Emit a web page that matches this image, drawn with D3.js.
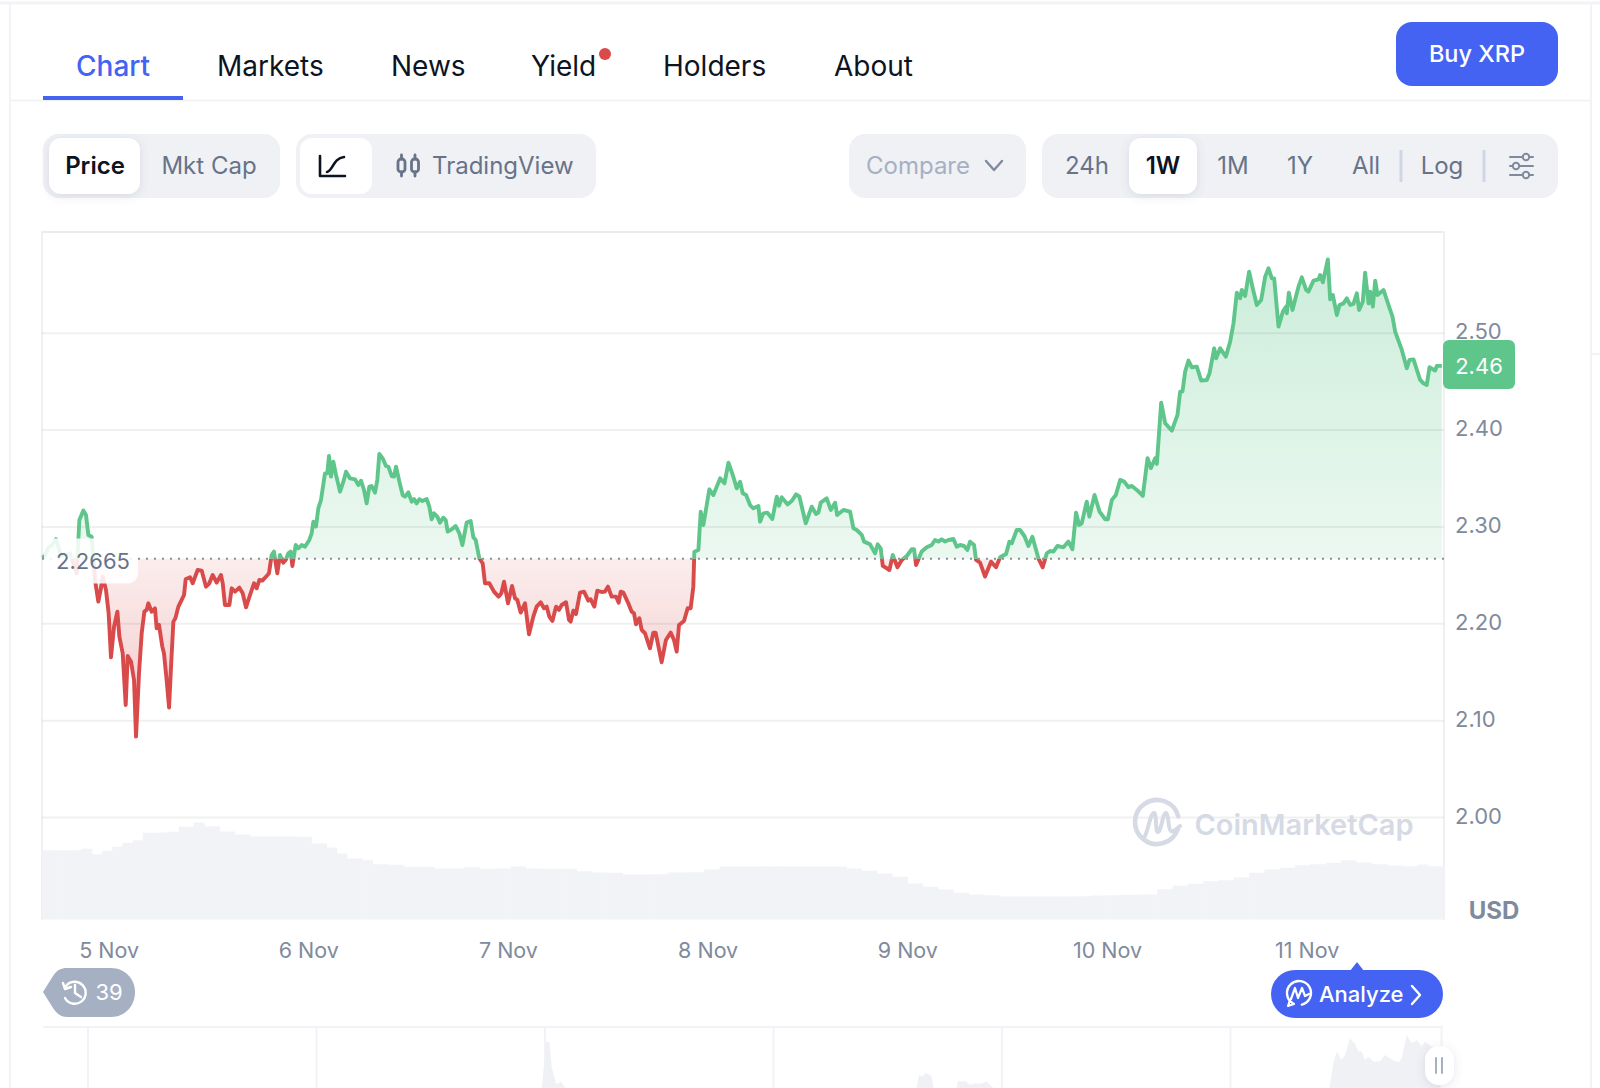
<!DOCTYPE html>
<html>
<head>
<meta charset="utf-8">
<title>XRP price chart</title>
<script src="https://d3js.org/d3.v7.min.js"></script>
<style>
  html, body { margin: 0; padding: 0; background: #fff; overflow: hidden; }
  svg { display: block; font-family: Inter, "Noto Sans", sans-serif; }
</style>
</head>
<body>
<script>
// price: hours since the left edge of the chart, USD
var hours = [0,0.32,0.56,0.76,1.16,1.68,1.97,2.25,2.77,3.37,3.97,4.17,4.49,4.97,5.29,5.57,5.97,6.17,6.37,6.77,7.05,7.29,7.69,8.01,8.29,8.66,9.06,9.30,9.70,10.06,10.30,10.70,11.06,11.30,11.66,11.98,12.30,12.58,12.78,13.18,13.58,13.78,14.06,14.46,14.66,14.98,15.27,15.55,15.79,16.03,16.39,16.79,17.07,17.27,17.79,18.11,18.71,19.19,19.71,20.11,20.51,20.99,21.51,21.72,21.99,22.52,22.80,23.20,23.72,24.12,24.52,25.00,25.48,25.80,26.12,26.48,27.00,27.28,27.60,27.88,28.28,28.60,29.00,29.29,29.61,29.89,30.09,30.49,30.81,31.21,31.61,32.13,32.41,32.61,32.93,33.21,33.53,34.01,34.29,34.49,34.73,35.01,35.34,35.82,36.22,36.54,37.02,37.62,38.02,38.34,38.70,39.02,39.34,
  39.62,40.02,40.30,40.54,40.94,41.34,41.63,42.03,42.31,42.55,42.95,43.35,43.63,44.03,44.43,44.71,45.03,45.35,45.71,46.23,46.55,46.83,47.11,47.51,47.83,48.24,48.52,48.76,49.24,49.72,50.16,50.52,51.04,51.52,51.84,52.12,52.56,52.96,53.24,53.76,54.32,54.87,55.21,55.53,56.01,56.49,56.85,57.13,57.53,58.05,58.53,59.05,59.45,59.93,60.33,60.65,60.97,61.34,61.78,62.14,62.46,62.98,63.34,63.54,63.86,64.18,64.66,65.14,65.66,65.94,66.38,66.74,67.26,67.66,68.02,68.46,68.99,69.31,69.55,69.87,70.47,70.87,71.15,71.39,71.79,72.07,72.47,73.07,73.47,73.75,74.47,74.99,75.56,75.96,76.28,76.56,77.16,77.60,77.96,78.28,78.40,78.89,
  79.17,79.49,79.89,80.21,80.69,81.50,82.02,82.50,83.02,83.50,83.90,84.22,84.62,85.10,85.50,86.10,86.30,86.70,87.18,87.78,88.31,88.59,88.91,89.59,90.11,90.63,91.03,91.79,92.51,93.03,93.31,93.59,94.31,94.80,95.32,95.56,96.32,97.12,97.52,97.92,98.52,98.80,99.52,100.12,100.44,100.80,101.05,101.53,101.85,102.25,102.81,103.33,103.93,104.53,104.81,105.05,105.73,106.33,106.93,107.33,107.73,108.13,108.54,108.94,109.54,109.94,110.34,110.82,111.22,111.54,112.02,112.26,112.74,113.34,114.06,114.66,115.15,115.87,116.27,116.55,117.15,117.55,118.07,118.55,119.03,119.75,120.27,120.76,121.15,121.56,122.04,122.76,123.36,123.84,124.28,124.64,124.96,125.56,125.88,
  126.50,127.10,127.78,128.10,128.58,129.06,129.58,130.06,130.58,130.98,131.58,132.30,132.87,133.27,133.79,133.99,134.51,134.99,135.79,136.47,136.79,137.07,137.39,137.79,138.19,138.79,139.32,140.00,140.32,140.88,141.12,141.60,142.28,142.80,143.20,143.60,144.00,144.20,144.60,145.08,145.52,146.00,146.53,147.01,147.41,147.81,148.09,148.61,149.13,149.53,149.61,149.85,150.29,151.01,151.41,151.93,152.21,152.82,153.42,153.62,153.94,154.54,154.82,155.14,155.62,155.94,156.42,156.82,157.22,157.62,158.02,158.30,158.74,159.02,159.43,159.63,159.95,160.23,160.51,161.23,161.83,162.31,162.63,163.43,164.03,164.35,164.83,165.63,166.03,166.43,166.76,167.44,167.64,168.24];

var prices = [2.268,2.2688,2.274,2.2784,2.2805,2.287,2.2791,2.2705,2.2705,2.2722,2.2568,2.2516,2.3066,2.3163,2.3118,2.2912,2.2894,2.2671,2.2447,2.2224,2.2344,2.2482,2.2344,2.2103,2.1649,2.1966,2.212,2.1862,2.169,2.1157,2.1663,2.1604,2.1415,2.083,2.1484,2.1897,2.212,2.2138,2.2206,2.212,2.2155,2.1948,2.1983,2.1759,2.169,2.1415,2.113,2.1622,2.2017,2.2052,2.2172,2.2241,2.2292,2.2454,2.2475,2.2413,2.255,2.2544,2.2378,2.2413,2.2499,2.242,2.2499,2.2413,2.2189,2.2189,2.2361,2.2327,2.2368,2.231,2.2165,2.2292,2.2413,2.2361,2.2447,2.244,2.2488,2.2516,2.2705,2.274,2.2516,2.2705,2.2626,2.2654,2.2722,2.274,2.2592,2.2808,2.2774,2.2808,2.2791,2.286,2.2929,2.3049,2.2998,2.3187,2.3273,2.3548,2.3548,2.3727,2.3514,2.3668,2.3531,2.3359,2.3462,2.3565,2.3496,2.3486,2.3428,2.3472,2.3376,2.3238,2.341,
  2.3417,2.3348,2.3479,2.3748,2.3703,2.3624,2.3617,2.352,2.3514,2.3617,2.3462,2.3324,2.3307,2.3352,2.3256,2.3283,2.3238,2.328,2.3262,2.3283,2.3204,2.3073,2.3135,2.3101,2.3039,2.309,2.3066,2.2946,2.297,2.3004,2.2929,2.2808,2.3039,2.3056,2.2888,2.286,2.2671,2.2619,2.2413,2.2413,2.2327,2.2275,2.231,2.243,2.2206,2.2385,2.2258,2.2241,2.211,2.2206,2.1886,2.2069,2.2172,2.2217,2.2155,2.2172,2.2069,2.2024,2.2172,2.2138,2.2189,2.2217,2.2034,2.2017,2.2131,2.2096,2.2316,2.2327,2.2234,2.2248,2.2172,2.2337,2.2323,2.2327,2.2378,2.2275,2.2275,2.2213,2.2327,2.2316,2.2206,2.212,2.2103,2.199,2.2052,2.1931,2.1897,2.1742,2.1904,2.1904,2.1598,2.1828,2.1904,2.1828,2.1708,2.1983,2.2024,2.2155,2.2155,2.2378,2.2739,2.2757,
  2.3152,2.3015,2.3221,2.3383,2.3324,2.3496,2.3445,2.3658,2.3531,2.3393,2.3462,2.3342,2.3324,2.3221,2.3187,2.3211,2.3049,2.3135,2.3142,2.3077,2.3307,2.3214,2.33,2.3228,2.3262,2.3331,2.3307,2.3032,2.3204,2.3128,2.3142,2.3245,2.329,2.317,2.3245,2.3118,2.317,2.3152,2.298,2.2963,2.2912,2.2843,2.2815,2.2722,2.2815,2.2774,2.2592,2.2568,2.255,2.2705,2.2578,2.2654,2.2695,2.2764,2.2764,2.2602,2.274,2.2784,2.2808,2.286,2.2843,2.2867,2.2843,2.286,2.287,2.2791,2.2808,2.2798,2.2757,2.2843,2.2808,2.2654,2.2626,2.2482,2.2636,2.2578,2.2681,2.2716,2.2843,2.2826,2.2963,2.2963,2.2901,2.2798,2.2894,2.2671,2.2578,2.2722,2.2746,2.274,2.2798,2.2784,2.2843,2.2764,2.3142,2.3015,2.3032,2.3256,2.3101,
  2.3325,2.3153,2.3074,2.3074,2.3274,2.3325,2.348,2.3463,2.3405,2.3418,2.3377,2.3315,2.3704,2.3601,2.3704,2.3645,2.4278,2.4065,2.3989,2.4151,2.4392,2.4392,2.4598,2.4712,2.4643,2.465,2.4505,2.4512,2.4581,2.4839,2.4736,2.4839,2.4753,2.4908,2.5097,2.5413,2.5355,2.5441,2.5379,2.563,2.5458,2.5286,2.5338,2.5579,2.5665,2.5561,2.5561,2.5063,2.5217,2.5269,2.52,2.5413,2.5235,2.5475,2.5572,2.5441,2.5424,2.5537,2.5551,2.5596,2.552,2.5757,2.5345,2.5389,2.5183,2.5286,2.5303,2.5355,2.5286,2.5297,2.5407,2.5235,2.5321,2.562,2.5303,2.5424,2.5269,2.5537,2.5389,2.5441,2.5286,2.5166,2.5011,2.4822,2.4633,2.4719,2.4725,2.4512,2.4478,2.4461,2.4643,2.4609,2.4657,2.4657];

var openPrice = 2.2665;
var lastPrice = 2.46;

// volume under the price, billions of USD per bar
var volumeHours = [0,1.70,3.54,4.76,5.99,7.22,8.44,9.67,10.90,12.12,13.96,15.19,16.42,18.25,19.48,21.32,23.16,25.00,26.84,28.68,30.52,32.36,34.20,35.43,36.65,38.49,39.72,41.56,43.40,45.24,47.08,48.92,50.76,52.60,54.44,56.28,58.12,59.96,62.41,64.25,66.09,67.93,69.77,71.61,73.45,75.29,77.75,79.59,81.43,83.27,85.11,86.95,88.79,91.11,92.95,94.79,96.63,98.47,100.31,102.15,103.99,105.83,107.67,109.51,111.35,113.19,115.03,116.87,118.71,120.55,122.39,124.23,126.07,127.91,129.75,132.20,134.04,135.88,137.72,139.56,141.40,143.24,145.08,146.92,148.76,150.60,152.44,154.28,156.12,157.96,159.80,161.64,163.48,165.32,166.55,168.50];
var volumes = [6.93,6.9,6.93,7.07,6.53,6.87,7.27,7.67,7.93,8.67,8.7,8.77,9.27,9.7,9.33,8.8,8.5,8.3,8.3,8.3,8.27,7.6,7.2,6.6,6.1,5.93,5.53,5.47,5.27,5.27,5.1,5.1,5.23,5.07,5.1,5.3,5.1,5.07,5.07,4.83,4.7,4.67,4.5,4.5,4.53,4.7,4.73,5.03,5.3,5.3,5.3,5.3,5.3,5.3,5.3,5.3,5.1,4.87,4.6,4.27,3.6,3.27,3,2.67,2.5,2.43,2.3,2.3,2.3,2.3,2.3,2.33,2.4,2.43,2.47,2.5,3.03,3.37,3.57,3.83,3.93,4.2,4.67,5,5.17,5.43,5.53,5.67,5.93,5.7,5.53,5.4,5.33,5.5,5.33,5.07];

// overview strip at the bottom: position in weeks, relative level
var navWeeks = [1.986,1.996,2.004,2.019,2.029,2.048,2.058,2.069,2.08,2.088,3.627,3.637,3.653,3.667,3.692,3.7,3.801,3.809,3.823,3.84,3.86,3.882,3.911,3.933,3.955,3.962,5.433,5.45,5.465,5.486,5.501,5.523,5.545,5.56,5.574,5.589,5.603,5.625,5.654,5.676,5.698,5.734,5.749,5.771,5.793,5.815,5.837,5.851,5.88,5.9,5.92];
var navLevels = [0,0.49,0.92,0.92,0.43,0.09,0.09,0.13,0.06,0,0,0.26,0.23,0.31,0.23,0,0,0.14,0.13,0.14,0.06,0.09,0.09,0.13,0.03,0,0,0.49,0.73,0.56,0.66,0.99,0.89,0.73,0.73,0.56,0.63,0.53,0.53,0.66,0.59,0.51,0.59,1.06,0.89,0.96,0.83,0.93,0.83,0.8,0];
var navTicks = [0,1,2,3,4,5];

var yTicks = [2.0,2.1,2.2,2.3,2.4,2.5];
var dayTicks = [8.0,32.0,56.0,80.0,104.0,128.0,152.0];
var dayLabels = ["5 Nov","6 Nov","7 Nov","8 Nov","9 Nov","10 Nov","11 Nov"];

var tabs = ["Chart","Markets","News","Yield","Holders","About"];
var tabX = [76,217,391,531,663,834];
var ranges = ["24h","1W","1M","1Y","All","Log"];
var rangeX = [1087,1163,1233,1300,1366,1442];

var GREEN = "#5ec68a", RED = "#d94a4b", BLUE = "#4463f3";
var INK = "#0d1421", SLATE = "#677389", AXIS = "#808a9d", PILL = "#eff1f5", RULE = "#f2f3f7";

var svg = d3.select("body").append("svg").attr("width", 1600).attr("height", 1088);
var defs = svg.append("defs");

var shadow = defs.append("filter").attr("id", "soft").attr("x", "-30%").attr("y", "-30%").attr("width", "160%").attr("height", "160%");
shadow.append("feDropShadow").attr("dx", 0).attr("dy", 2).attr("stdDeviation", 5).attr("flood-color", "#58667e").attr("flood-opacity", 0.16);

function label(x, y, str, size, weight, fill, anchor) {
  return svg.append("text").attr("x", x).attr("y", y).attr("dy", ".35em")
    .attr("font-size", size).attr("font-weight", weight).attr("fill", fill)
    .attr("text-anchor", anchor || "middle").text(str);
}
function box(x, y, w, h, r, fill) {
  return svg.append("rect").attr("x", x).attr("y", y).attr("width", w).attr("height", h).attr("rx", r).attr("fill", fill);
}
function icon(d, color, width) {
  return svg.append("path").attr("d", d).attr("fill", "none").attr("stroke", color)
    .attr("stroke-width", width).attr("stroke-linecap", "round").attr("stroke-linejoin", "round");
}
function ring(cx, cy, r, from, to, color, width) {
  return icon(d3.arc().innerRadius(r).outerRadius(r).startAngle(from).endAngle(to)(), color, width)
    .attr("transform", "translate(" + cx + "," + cy + ")");
}

// page rules
box(0, 1.5, 1600, 3, 0, RULE);
box(9, 3, 2, 1085, 0, RULE);
box(1590, 3, 2, 1085, 0, RULE);
box(10, 99.5, 1582, 2, 0, RULE);
box(1592, 353, 8, 2, 0, RULE);

// tabs
tabs.forEach(function (t, i) {
  svg.append("text").attr("x", tabX[i]).attr("y", 76).attr("font-size", 28)
    .attr("font-weight", i == 0 ? 500 : 400).attr("fill", i == 0 ? BLUE : INK).text(t);
});
box(43, 96, 140, 4, 0, BLUE);
svg.append("circle").attr("cx", 605).attr("cy", 54).attr("r", 6).attr("fill", RED);

box(1396, 22, 162, 64, 16, BLUE);
label(1477, 54, "Buy XRP", 23.5, 500, "#fff");

// toolbar
box(43, 134, 237, 64, 16, PILL);
box(49, 138, 91, 56, 12, "#fff").attr("filter", "url(#soft)");
label(95, 166, "Price", 24, 600, INK);
label(209, 166, "Mkt Cap", 24, 400, SLATE);

box(296, 134, 300, 64, 16, PILL);
box(300, 138, 72, 56, 12, "#fff");
icon("M320 156V176H345M327 172C333 171 333 158 344 157", INK, 2.6);
icon("M401.5 155V159M401.5 172V176M415 155V159M415 172V176", SLATE, 2.8);
svg.append("rect").attr("x", 398).attr("y", 159).attr("width", 7).attr("height", 13).attr("rx", 3).attr("fill", "none").attr("stroke", SLATE).attr("stroke-width", 2.8);
svg.append("rect").attr("x", 411.5).attr("y", 159).attr("width", 7).attr("height", 13).attr("rx", 3).attr("fill", "none").attr("stroke", SLATE).attr("stroke-width", 2.8);
label(432, 166, "TradingView", 24, 400, SLATE, "start");

box(849, 134, 177, 64, 16, PILL);
label(866, 166, "Compare", 24, 400, "#a6b0c3", "start");
icon("M986 161L994 170L1002 161", "#808a9d", 2.4);

box(1042, 134, 516, 64, 16, PILL);
box(1129, 138, 68, 56, 12, "#fff").attr("filter", "url(#soft)");
ranges.forEach(function (r, i) {
  label(rangeX[i], 166, r, 24, i == 1 ? 600 : 400, i == 1 ? INK : SLATE);
});
box(1399.5, 150, 3, 32, 0, "#cfd6e4");
box(1482.5, 150, 3, 32, 0, "#cfd6e4");
icon("M1510 157H1533M1510 166H1533M1510 175H1533", AXIS, 2);
[[1526, 157], [1516, 166], [1526, 175]].forEach(function (k) {
  svg.append("circle").attr("cx", k[0]).attr("cy", k[1]).attr("r", 3.2).attr("fill", PILL).attr("stroke", AXIS).attr("stroke-width", 2);
});

// scales
var left = 42, right = 1444;
var x = d3.scaleLinear().domain([0, 168.5]).range([left, right]);
var y = d3.scaleLinear().domain([2.0, 2.5]).range([817, 332.7]);
var yVol = d3.scaleLinear().domain([0, 10]).range([919.5, 819.5]);
var xNav = d3.scaleLinear().domain([0, 1]).range([88, 316.5]);
var yNav = d3.scaleLinear().domain([0, 1]).range([1088, 1038]);
var base = y(openPrice);

// plot frame
box(left - 1, 231, right - left + 2, 2, 0, "#ebebeb");
box(left - 1, 231, 2, 689, 0, "#f0f0f0");
box(right - 1, 231, 2, 689, 0, "#f0f0f0");

// volume bars
svg.append("g").selectAll("rect")
  .data(volumes.slice(0, volumes.length - 1))
  .enter().append("rect")
  .attr("x", function (d, i) { return x(volumeHours[i]); })
  .attr("width", function (d, i) { return x(volumeHours[i + 1]) - x(volumeHours[i]) + 0.5; })
  .attr("y", function (d) { return yVol(d); })
  .attr("height", function (d) { return yVol(0) - yVol(d); })
  .attr("fill", "#f0f2f6").attr("fill-opacity", 0.95);

// clip and gradient for the part above / below the opening price
defs.append("clipPath").attr("id", "above").append("rect")
  .attr("x", 0).attr("y", 0).attr("width", 1600).attr("height", base);
defs.append("clipPath").attr("id", "below").append("rect")
  .attr("x", 0).attr("y", base).attr("width", 1600).attr("height", 1088 - base);

var gUp = defs.append("linearGradient").attr("id", "fillUp").attr("gradientUnits", "userSpaceOnUse")
  .attr("x1", 0).attr("x2", 0).attr("y1", y(2.58)).attr("y2", base);
gUp.append("stop").attr("offset", 0).attr("stop-color", GREEN).attr("stop-opacity", 0.32);
gUp.append("stop").attr("offset", 1).attr("stop-color", GREEN).attr("stop-opacity", 0.12);
var gDown = defs.append("linearGradient").attr("id", "fillDown").attr("gradientUnits", "userSpaceOnUse")
  .attr("x1", 0).attr("x2", 0).attr("y1", base).attr("y2", y(2.083));
gDown.append("stop").attr("offset", 0).attr("stop-color", RED).attr("stop-opacity", 0.1);
gDown.append("stop").attr("offset", 1).attr("stop-color", RED).attr("stop-opacity", 0.3);

var series = d3.zip(hours, prices);
var area = d3.area().x(function (d) { return x(d[0]); }).y0(base).y1(function (d) { return y(d[1]); });
var line = d3.line().x(function (d) { return x(d[0]); }).y(function (d) { return y(d[1]); });

svg.append("path").attr("d", area(series)).attr("fill", "url(#fillUp)").attr("clip-path", "url(#above)");
svg.append("path").attr("d", area(series)).attr("fill", "url(#fillDown)").attr("clip-path", "url(#below)");

// y axis with its gridlines
var yAxis = svg.append("g").attr("transform", "translate(" + right + ",0)")
  .call(d3.axisRight(y).tickValues(yTicks).tickFormat(d3.format(".2f")).tickSize(-(right - left)).tickPadding(12));
yAxis.select(".domain").remove();
yAxis.selectAll("line").attr("stroke", "#000").attr("stroke-opacity", 0.06).attr("stroke-width", 2);
yAxis.selectAll("text").attr("x", 11).attr("y", -0.8).attr("font-family", "Inter").attr("font-size", 22).attr("fill", AXIS);

// price line
svg.append("path").attr("d", line(series)).attr("fill", "none").attr("stroke", GREEN).attr("stroke-width", 3.9)
  .attr("stroke-linejoin", "round").attr("clip-path", "url(#above)");
svg.append("path").attr("d", line(series)).attr("fill", "none").attr("stroke", RED).attr("stroke-width", 3.9)
  .attr("stroke-linejoin", "round").attr("clip-path", "url(#below)");

// opening price
svg.append("line").attr("x1", left).attr("x2", right).attr("y1", base).attr("y2", base)
  .attr("stroke", "#8a8f99").attr("stroke-width", 2).attr("stroke-dasharray", "2 6");
box(44, 538.5, 94, 45, 10, "#fff").attr("fill-opacity", 0.88);
label(93, 561, d3.format(".4f")(openPrice), 22, 400, SLATE);

// last price
box(1443, 340, 72, 49, 6, GREEN);
label(1479, 366, d3.format(".2f")(lastPrice), 22, 400, "#fff");

// watermark
ring(1157, 822, 22, 1.9, 7.6, "#d5dae5", 4.6);
icon("M1145 836C1148 830 1151 812 1154 813C1157 814 1155 832 1158 832C1161 832 1163 812 1166 813C1169 814 1168 830 1171 831C1174 832 1177 829 1180 826", "#d5dae5", 4);
label(1304, 825, "CoinMarketCap", 29, 600, "#d5dae5");

// x axis
var xAxis = svg.append("g").attr("transform", "translate(0,920)")
  .call(d3.axisBottom(x).tickValues(dayTicks).tickFormat(function (d, i) { return dayLabels[i]; }).tickSize(0).tickPadding(23));
xAxis.select(".domain").remove();
xAxis.selectAll("text").attr("font-family", "Inter").attr("font-size", 21.5).attr("fill", AXIS);

label(1494, 911, "USD", 24, 700, AXIS);

// annotations badge
svg.append("path").attr("fill", "#a6b0c3")
  .attr("d", "M43 992L53 976C57 970 61 968 67 968H111C125 968 135 979 135 992C135 1006 125 1017 111 1017H67C61 1017 57 1014 53 1008Z");
icon("M66 986A11 11 0 1 1 65 998M63 983L65 989L71 987M75 985V993L81 997", "#fff", 2.4);
label(109, 992, "39", 22, 400, "#fff");

// analyze button
svg.append("path").attr("fill", BLUE).attr("d", "M1350 971L1357 962L1364 971Z");
box(1271, 970, 172, 48, 24, BLUE);
ring(1299, 993, 12, -2.6, 2.9, "#fff", 2.4);
icon("M1294 1004L1288 1006L1290 1000", "#fff", 2.2);
icon("M1291 999L1295 988L1298 998L1302 988L1305 996L1309 994", "#fff", 2.2);
label(1319, 994, "Analyze", 22, 500, "#fff", "start");
icon("M1412 986L1420 995L1412 1004", "#fff", 2.4);

// overview strip
box(43, 1026, 1400, 2, 0, RULE);
svg.append("g").attr("transform", "translate(0,1027)").selectAll("line")
  .data(navTicks).enter().append("line")
  .attr("x1", function (d) { return xNav(d); }).attr("x2", function (d) { return xNav(d); })
  .attr("y1", 0).attr("y2", 61).attr("stroke", RULE).attr("stroke-width", 2);
svg.append("path")
  .attr("d", d3.area().x(function (d) { return xNav(d[0]); }).y0(yNav(0)).y1(function (d) { return yNav(d[1]); })(d3.zip(navWeeks, navLevels)))
  .attr("fill", "#eff1f5");
box(1440.5, 1027, 2, 25, 0, RULE);
box(1425, 1046, 29, 39, 14, "#fff").attr("filter", "url(#soft)");
icon("M1436 1058V1073M1442 1058V1073", "#a6b0c3", 2);
</script>
</body>
</html>
